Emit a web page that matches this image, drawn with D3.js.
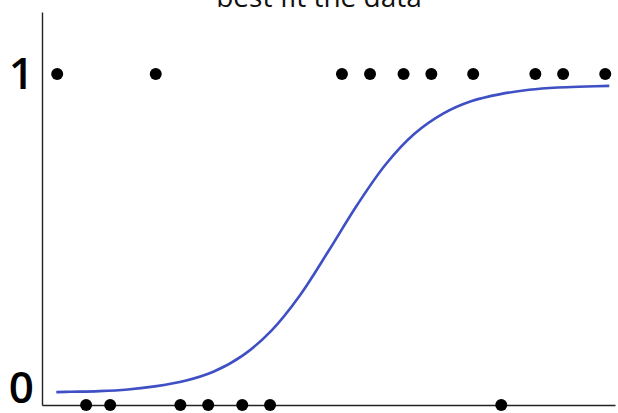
<!DOCTYPE html>
<html>
<head>
<meta charset="utf-8">
<script src="https://cdn.jsdelivr.net/npm/d3@7"></script>
<style>
  body { margin: 0; background: #fff; }
  svg { display: block; }
</style>
</head>
<body></body>
<script>
const width = 618;
const height = 413;

// observed outcomes (x in arbitrary units, y is 0 or 1)
const onesX = [0.53, 3.97, 10.47, 11.45, 12.62, 13.59, 15.05, 17.22, 18.19, 19.66];
const zerosX = [1.54, 2.38, 4.83, 5.80, 6.99, 7.96, 16.03];

// fitted curve
const curveX = [0.5, 1, 2, 3, 4, 5, 6, 7, 8, 9, 10, 11, 12, 13, 14, 15, 16, 17, 18, 19, 19.8];
const curveY = [0.039, 0.040, 0.042, 0.047, 0.057, 0.073, 0.101, 0.149, 0.224, 0.331, 0.465,
                0.604, 0.727, 0.819, 0.880, 0.918, 0.939, 0.952, 0.959, 0.962, 0.964];

const yTicks = [0, 1];
const yTickLabels = ['0', '1'];
const title = 'best fit the data';

const x = d3.scaleLinear().domain([0, 20]).range([42, 615]);
const y = d3.scaleLinear().domain([0, 1.187]).range([405, 12]);

const svg = d3.select('body')
    .append('svg')
        .attr('width', width)
        .attr('height', height);

// title sits partly above the top edge, as in the original
svg.append('text')
    .attr('x', 319)
    .attr('y', 7)
    .attr('text-anchor', 'middle')
    .attr('font-family', 'Open Sans')
    .attr('font-size', 28)
    .attr('fill', '#111')
    .text(title);

// axes
svg.append('g')
    .attr('transform', `translate(0,${y(0)})`)
    .call(d3.axisBottom(x).tickValues([]).tickSizeOuter(0))
    .call(g => g.select('.domain').attr('stroke', '#222').attr('stroke-width', 1.4));

svg.append('g')
    .attr('transform', `translate(${x(0)},0)`)
    .call(d3.axisLeft(y).tickValues(yTicks).tickSize(0).tickPadding(8)
        .tickFormat((d, i) => yTickLabels[i]))
    .call(g => g.select('.domain').attr('stroke', '#222').attr('stroke-width', 1.4))
    .call(g => g.selectAll('text')
        .attr('font-family', 'Open Sans')
        .attr('font-weight', 600)
        .attr('font-size', 44)
        .attr('fill', '#000')
        .attr('dy', d => d === 0 ? '-0.05em' : '0.34em'));

// fitted line
const line = d3.line()
    .x((d, i) => x(curveX[i]))
    .y(d => y(d))
    .curve(d3.curveCatmullRom);

svg.append('path')
    .datum(curveY)
    .attr('d', line)
    .attr('fill', 'none')
    .attr('stroke', '#3f4fc4')
    .attr('stroke-width', 2.6);

// points
svg.append('g')
    .selectAll('circle')
    .data(onesX.map(v => [v, 1]).concat(zerosX.map(v => [v, 0])))
    .enter()
    .append('circle')
        .attr('cx', d => x(d[0]))
        .attr('cy', d => y(d[1]))
        .attr('r', 6)
        .attr('fill', '#000');
</script>
</html>
